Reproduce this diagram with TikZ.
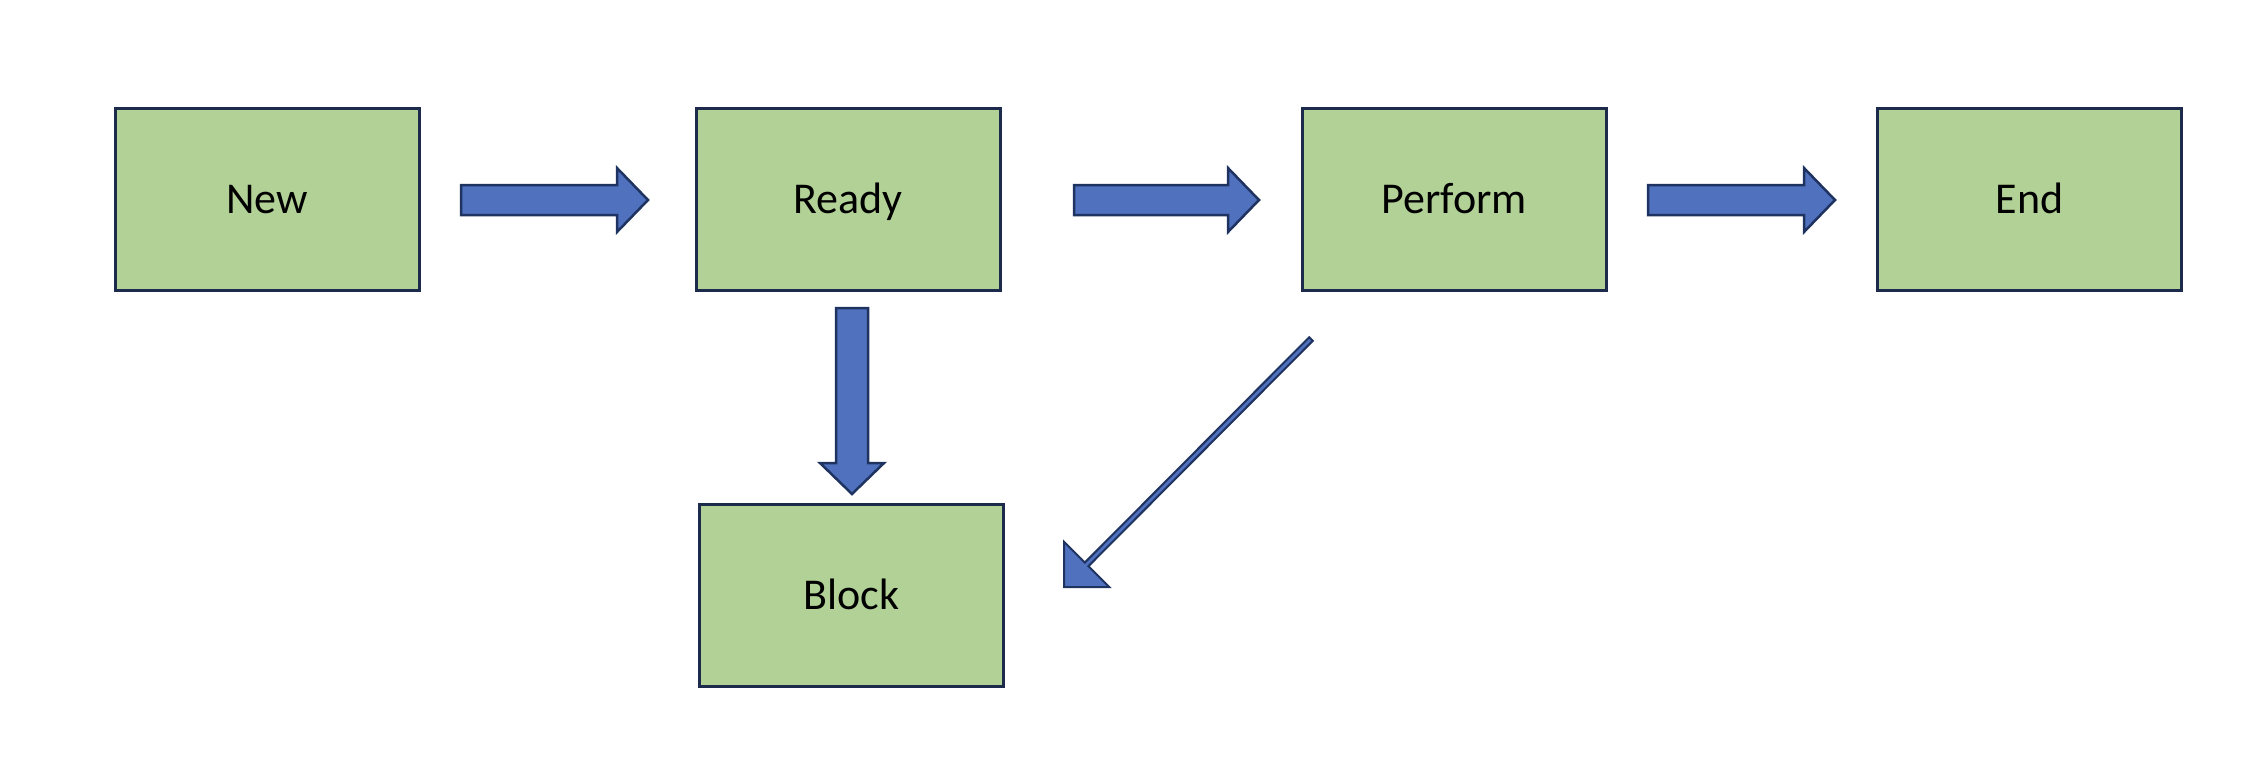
\documentclass[tikz,border=0pt]{standalone}
\usepackage{fontspec}
\setmainfont{Carlito}
\definecolor{boxfill}{HTML}{B2D196}
\definecolor{boxline}{HTML}{1C2B4C}
\definecolor{arrfill}{HTML}{4F71BE}
\definecolor{arrline}{HTML}{1F3361}
\tikzset{
  state/.style={draw=boxline, fill=boxfill, line width=3pt, minimum width=304pt, minimum height=182pt, inner sep=0pt, text height=28pt, text depth=0pt, font=\fontsize{44}{50}\selectfont},
  barrow/.style={draw=arrline, fill=arrfill, line width=2.5pt, line join=miter}
}
\begin{document}
\begin{tikzpicture}[x=1pt,y=-1pt]
\fill[white] (0,0) rectangle (2260,776);
\useasboundingbox (0,0) rectangle (2260,776);
\node[state] (new) at (267,199) {New};
\node[state] (ready) at (848,199) {Ready};
\node[state] (perform) at (1454,199) {Perform};
\node[state] (end) at (2029.5,199) {End};
\node[state] (block) at (851.5,595) {Block};
% horizontal block arrows
\draw[barrow] (461,185) -- (617,185) -- (617,168) -- (648,200) -- (617,232) -- (617,215) -- (461,215) -- cycle;
\draw[barrow] (1074,185) -- (1228,185) -- (1228,168) -- (1259,200) -- (1228,232) -- (1228,215) -- (1074,215) -- cycle;
\draw[barrow] (1648,185) -- (1804,185) -- (1804,168) -- (1835,200) -- (1804,232) -- (1804,215) -- (1648,215) -- cycle;
% down arrow
\draw[barrow] (836,308) -- (868,308) -- (868,463) -- (884,463) -- (852,494) -- (820,463) -- (836,463) -- cycle;
% diagonal arrow
\draw[barrow, line width=2pt] (1312.8,340.8) -- (1088.4,566.2) -- (1109.2,587) -- (1064,587) -- (1064,541.8) -- (1084.8,562.6) -- (1309.2,337.2) -- cycle;
\end{tikzpicture}
\end{document}
